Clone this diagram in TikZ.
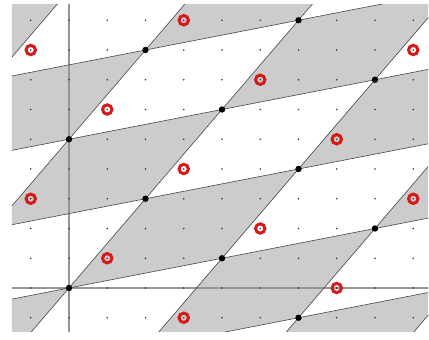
\documentclass[tikz,border=0pt]{standalone}
\definecolor{cellgray}{RGB}{204,204,204}
\definecolor{ringred}{RGB}{215,25,25}
\definecolor{axisgray}{RGB}{150,150,150}
\definecolor{edgecol}{RGB}{70,70,80}
\tikzset{
  cellfill/.style={fill=cellgray},
  latline/.style={draw=edgecol,line width=0.6pt},
  axisline/.style={draw=axisgray,line width=1.1pt},
  griddot/.style={fill=black!80},
  latpoint/.style={fill=black},
  redring/.style={draw=ringred,line width=3pt}
}
\begin{document}
\begin{tikzpicture}[x=38.25pt,y=29.75pt]
\useasboundingbox (-1.8039,-1.7479) rectangle (9.4118,9.6807);
\begin{scope}
\clip (-1.4902,-1.4790) rectangle (9.3856,9.5126);
% checkerboard of parallelograms
\foreach \m in {-4,...,4}{
  \foreach \n in {-3,...,4}{
    \pgfmathtruncatemacro\pty{mod(\m+\n+20,2)}
    \ifnum\pty=0
      \fill[cellfill] (4*\m+2*\n,\m+3*\n) -- ++(4,1) -- ++(2,3) -- ++(-4,-1) -- cycle;
    \fi
  }
}
% axes
\draw[axisline] (-2,0) -- (10,0);
\draw[axisline] (0,-2) -- (0,10);
% lattice lines
\foreach \n in {-3,...,5}{
  \draw[latline] (2*\n-20,3*\n-5) -- (2*\n+20,3*\n+5);
}
\foreach \m in {-4,...,4}{
  \draw[latline] (4*\m-10,\m-15) -- (4*\m+10,\m+15);
}
% grid dots
\foreach \i in {-1,...,9}{
  \foreach \j in {-1,...,9}{
    \fill[griddot] (\i,\j) circle (0.8pt);
  }
}
% red rings
\foreach \m in {-3,...,3}{
  \foreach \n in {-2,...,4}{
    \draw[redring] (1+4*\m+2*\n,1+\m+3*\n) circle (4.7pt);
  }
}
% lattice points
\foreach \m in {-3,...,3}{
  \foreach \n in {-2,...,4}{
    \fill[latpoint] (4*\m+2*\n,\m+3*\n) circle (3.2pt);
  }
}
\end{scope}
\end{tikzpicture}
\end{document}
